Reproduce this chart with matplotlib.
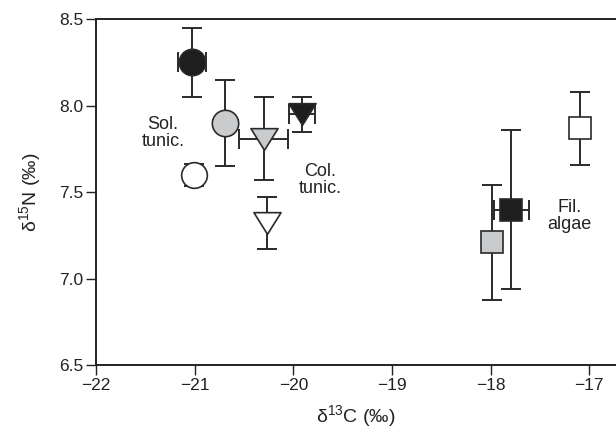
import matplotlib
matplotlib.use('Agg')
from matplotlib import pyplot as plt
from matplotlib.path import Path

plt.rcParams['font.family'] = ['Liberation Sans', 'DejaVu Sans']
plt.rcParams['mathtext.default'] = 'regular'

# mean d13C / d15N with SD
groups = ['Sol. tunic. A', 'Sol. tunic. B', 'Sol. tunic. C',
          'Col. tunic. A', 'Col. tunic. B', 'Col. tunic. C',
          'Fil. algae A', 'Fil. algae B', 'Fil. algae C']
d13c = [-21.03, -20.69, -21.01, -19.91, -20.30, -20.27, -17.79, -17.99, -17.09]
d15n = [8.25, 7.90, 7.60, 7.95, 7.81, 7.32, 7.40, 7.21, 7.87]
d13c_sd = [0.14, 0.0, 0.0, 0.13, 0.25, 0.0, 0.18, 0.0, 0.0]
d15n_sd = [0.20, 0.25, 0.065, 0.10, 0.24, 0.15, 0.46, 0.33, 0.21]

x_ticks = [-22, -21, -20, -19, -18, -17]
y_ticks = [6.5, 7.0, 7.5, 8.0, 8.5]

# style per point
tri = Path([(-1, 0.8), (1, 0.8), (0, -0.8), (-1, 0.8)], closed=True)
markers = ['o', 'o', 'o', tri, tri, tri, 's', 's', 's']
sizes = [19, 19, 18.5, 19.5, 19.5, 19.5, 16.5, 16.5, 16.5]
dark = '#1e1e1e'
grey = '#c9cbcd'
faces = [dark, grey, 'white', dark, grey, 'white', dark, grey, 'white']

fig = plt.figure(figsize=(6.16, 4.32), dpi=100)
ax = fig.add_axes([0.156, 0.154, 0.844, 0.802])

for i in range(len(d13c)):
    ax.errorbar(d13c[i], d15n[i],
                xerr=d13c_sd[i] if d13c_sd[i] > 0 else None,
                yerr=d15n_sd[i], fmt='none', ecolor='#2a2a2a',
                elinewidth=1.4, capsize=7, capthick=1.4, zorder=2)
    ax.plot(d13c[i], d15n[i], marker=markers[i], ms=sizes[i],
            mfc=faces[i], mec='#2a2a2a', mew=1.2, ls='none', zorder=3)

ax.text(-21.32, 7.84, 'Sol.\ntunic.', ha='center', va='center',
        fontsize=13, color='#222222', linespacing=1.0)
ax.text(-19.73, 7.57, 'Col.\ntunic.', ha='center', va='center',
        fontsize=13, color='#222222', linespacing=1.0)
ax.text(-17.20, 7.36, 'Fil.\nalgae', ha='center', va='center',
        fontsize=13, color='#222222', linespacing=1.0)

ax.set_xlim(-22, -16.73)
ax.set_ylim(6.5, 8.5)
ax.set_xticks(x_ticks)
ax.set_xticklabels([str(t).replace('-', '\u2212') for t in x_ticks])
ax.set_yticks(y_ticks)
ax.set_yticklabels(['%.1f' % t for t in y_ticks])
ax.tick_params(direction='out', length=7, width=1.0, labelsize=12.5,
               colors='#222222', pad=2)
ax.spines['right'].set_visible(False)
for s in ['left', 'bottom', 'top']:
    ax.spines[s].set_linewidth(1.4)
    ax.spines[s].set_color('#222222')

ax.set_xlabel('\u03b4$^{13}$C (\u2030)', fontsize=14, color='#222222', labelpad=7)
ax.set_ylabel('\u03b4$^{15}$N (\u2030)', fontsize=14, color='#222222', labelpad=12)

plt.savefig('out.png', dpi=100)
plt.close()
